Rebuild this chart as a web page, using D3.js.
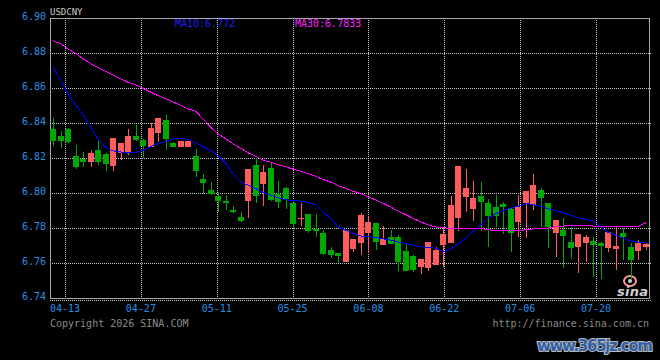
<!DOCTYPE html>
<html>
<head>
<meta charset="utf-8">
<script src="https://cdn.jsdelivr.net/npm/d3@7/dist/d3.min.js"></script>
<style>
	body {margin:0; background:#000;}
	svg {display:block;}
</style>
</head>
<body>
<div id="chart"></div>
<script>
// daily candles, first trading day shown
var firstDay = "2026-04-09";

var opens  = [6.8366,6.8326,6.8366,6.8211,6.8196,6.8179,6.8246,6.8221,6.8156,6.8227,
	6.8227,6.8326,6.8301,6.8265,6.8345,6.8417,6.8287,6.8265,6.8265,6.8211,
	6.8082,6.8017,6.7983,6.7954,6.7905,6.7865,6.7956,6.8160,6.8051,6.8145,
	6.7994,6.8029,6.7943,6.7850,6.7878,6.7796,6.7773,6.7674,6.7657,6.7606,
	6.7682,6.7713,6.7770,6.7829,6.7703,6.7746,6.7749,6.7670,6.7640,6.7577,
	6.7574,6.7586,6.7704,6.7717,6.7859,6.7979,6.7909,6.7983,6.7945,6.7922,
	6.7939,6.7910,6.7836,6.7941,6.7931,6.8017,6.7941,6.7773,6.7789,6.7722,
	6.7690,6.7716,6.7726,6.7713,6.7684,6.7682,6.7770,6.7690,6.7670,6.7690];
var highs  = [6.8427,6.8356,6.8373,6.8274,6.8236,6.8246,6.8297,6.8230,6.8314,6.8286,
	6.8366,6.8389,6.8307,6.8398,6.8430,6.8446,6.8290,6.8297,6.8297,6.8250,
	6.8107,6.8061,6.8007,6.7987,6.7926,6.7893,6.8137,6.8198,6.8160,6.8170,
	6.8069,6.8036,6.7943,6.7941,6.7878,6.7880,6.7789,6.7693,6.7660,6.7789,
	6.7737,6.7886,6.7866,6.7829,6.7813,6.7791,6.7760,6.7709,6.7646,6.7623,
	6.7720,6.7691,6.7807,6.7983,6.8154,6.8137,6.8069,6.8061,6.7966,6.7989,
	6.7950,6.7922,6.7989,6.8011,6.8109,6.8027,6.7941,6.7846,6.7859,6.7807,
	6.7766,6.7760,6.7750,6.7722,6.7779,6.7807,6.7799,6.7715,6.7731,6.7715];
var lows   = [6.8270,6.8259,6.8284,6.8137,6.8150,6.8150,6.8160,6.8127,6.8127,6.8189,
	6.8217,6.8299,6.8198,6.8265,6.8293,6.8246,6.8265,6.8265,6.8265,6.8093,
	6.7993,6.7989,6.7890,6.7903,6.7884,6.7833,6.7859,6.7945,6.7926,6.7955,
	6.7914,6.7909,6.7801,6.7811,6.7773,6.7747,6.7646,6.7627,6.7600,6.7606,
	6.7665,6.7643,6.7655,6.7674,6.7703,6.7710,6.7554,6.7556,6.7549,6.7537,
	6.7554,6.7586,6.7579,6.7717,6.7783,6.7891,6.7840,6.7782,6.7693,6.7807,
	6.7766,6.7665,6.7747,6.7745,6.7903,6.7807,6.7687,6.7636,6.7570,6.7621,
	6.7541,6.7607,6.7522,6.7509,6.7665,6.7560,6.7617,6.7506,6.7617,6.7675];
var closes = [6.8297,6.8299,6.8290,6.8147,6.8179,6.8227,6.8175,6.8166,6.8314,6.8286,
	6.8326,6.8303,6.8269,6.8370,6.8430,6.8307,6.8265,6.8297,6.8297,6.8126,
	6.8059,6.7994,6.7956,6.7945,6.7893,6.7842,6.8137,6.7983,6.8122,6.7960,
	6.7947,6.7966,6.7825,6.7859,6.7783,6.7785,6.7651,6.7646,6.7640,6.7789,
	6.7737,6.7874,6.7836,6.7722,6.7735,6.7710,6.7607,6.7556,6.7560,6.7623,
	6.7720,6.7674,6.7766,6.7931,6.8154,6.8029,6.7973,6.7947,6.7869,6.7869,
	6.7922,6.7770,6.7922,6.8009,6.8046,6.7973,6.7807,6.7846,6.7754,6.7684,
	6.7766,6.7750,6.7703,6.7697,6.7779,6.7697,6.7747,6.7616,6.7712,6.7709];

var ma10 = [6.8725,6.8642,6.8563,6.8503,6.8446,6.8371,6.8309,6.8260,6.8241,6.8234,
	6.8234,6.8233,6.8244,6.8266,6.8281,6.8295,6.8309,6.8312,6.8307,6.8287,
	6.8264,6.8242,6.8213,6.8168,6.8109,6.8061,6.8045,6.8024,6.8003,6.7986,
	6.7973,6.7961,6.7957,6.7954,6.7947,6.7931,6.7891,6.7854,6.7806,6.7787,
	6.7770,6.7754,6.7751,6.7745,6.7738,6.7730,6.7720,6.7711,6.7702,6.7693,
	6.7688,6.7685,6.7665,6.7679,6.7709,6.7744,6.7780,6.7819,6.7857,6.7882,
	6.7900,6.7914,6.7924,6.7939,6.7934,6.7923,6.7910,6.7899,6.7887,6.7873,
	6.7858,6.7849,6.7841,6.7806,6.7775,6.7759,6.7741,6.7725,6.7720,6.7720];
var ma30 = [6.8870,6.8852,6.8823,6.8797,6.8767,6.8738,6.8717,6.8695,6.8674,6.8652,
	6.8633,6.8617,6.8598,6.8576,6.8556,6.8538,6.8521,6.8500,6.8481,6.8466,
	6.8423,6.8374,6.8338,6.8309,6.8281,6.8255,6.8230,6.8209,6.8188,6.8175,
	6.8162,6.8150,6.8136,6.8124,6.8111,6.8095,6.8077,6.8062,6.8042,6.8026,
	6.8010,6.7996,6.7978,6.7960,6.7941,6.7919,6.7897,6.7876,6.7855,6.7834,
	6.7819,6.7805,6.7802,6.7796,6.7797,6.7797,6.7797,6.7797,6.7790,6.7785,
	6.7785,6.7785,6.7787,6.7789,6.7795,6.7798,6.7798,6.7811,6.7811,6.7817,
	6.7817,6.7817,6.7811,6.7811,6.7811,6.7807,6.7807,6.7807,6.7809,6.7830];

var xTickLabels = ["04-13","04-27","05-11","05-25","06-08","06-22","07-06","07-20"];
var yTicks = [6.74,6.76,6.78,6.80,6.82,6.84,6.86,6.88,6.90];

var titleText = "USDCNY";
var ma10Text = "MA10:6.772";
var ma30Text = "MA30:6.7833";

//=================== SETUP ====================================
var W = 660, H = 360;
var plot = {left:50, right:649, top:18, bottom:298};
var mono = "'DejaVu Sans Mono', 'Liberation Mono', monospace";

var parseDay = d3.utcParse("%Y-%m-%d");
var start = parseDay(firstDay);
var days = d3.utcDays(start, d3.utcDay.offset(start, 150))
	.filter(function(d){ return d.getUTCDay() % 6 !== 0; })
	.slice(0, opens.length);

var candles = days.map(function(d, i){
	return {date:d, o:opens[i], h:highs[i], l:lows[i], c:closes[i], m10:ma10[i], m30:ma30[i]};
});

var svg = d3.select("#chart").append("svg")
	.attr("width", W)
	.attr("height", H)
	.style("background", "#000");

var x = d3.scaleBand()
	.domain(days)
	.range([50, 650])
	.paddingInner(0.2)
	.paddingOuter(0.1);

// tick positions are spaced evenly along the frame
var xTick = d3.scalePoint()
	.domain(xTickLabels)
	.range([65, 596]);

var y = d3.scaleLinear()
	.domain([6.74, 6.90])
	.range([plot.bottom, plot.top]);

//=================== GRID ====================================
var grid = svg.append("g").attr("shape-rendering", "crispEdges");

grid.selectAll("line.hgrid")
	.data(yTicks.slice(1, -1))
	.enter().append("line")
	.classed("hgrid", true)
	.attr("x1", plot.left).attr("x2", 651)
	.attr("y1", function(d){ return Math.round(y(d)) + 0.5; })
	.attr("y2", function(d){ return Math.round(y(d)) + 0.5; })
	.attr("stroke", "#c8c8c8")
	.attr("stroke-dasharray", "1,1");

grid.selectAll("line.vgrid")
	.data(xTickLabels)
	.enter().append("line")
	.classed("vgrid", true)
	.attr("x1", function(d){ return Math.round(xTick(d)) + 0.5; })
	.attr("x2", function(d){ return Math.round(xTick(d)) + 0.5; })
	.attr("y1", plot.top).attr("y2", plot.bottom)
	.attr("stroke", "#c8c8c8")
	.attr("stroke-dasharray", "1,1");

// bottom dotted rule under the frame
grid.append("line")
	.attr("x1", plot.left).attr("x2", 651)
	.attr("y1", 300.5).attr("y2", 300.5)
	.attr("stroke", "#c8c8c8")
	.attr("stroke-dasharray", "1,1");

// frame
grid.append("rect")
	.attr("x", plot.left + 0.5)
	.attr("y", plot.top + 0.5)
	.attr("width", plot.right - plot.left)
	.attr("height", plot.bottom - plot.top)
	.attr("fill", "none")
	.attr("stroke", "#a8a8a8");

//=================== LOGO ====================================
var logo = svg.append("g");
logo.append("ellipse")
	.attr("cx", 630).attr("cy", 281).attr("rx", 6).attr("ry", 5)
	.attr("fill", "none").attr("stroke", "#ff9a9a").attr("stroke-width", 2);
logo.append("circle")
	.attr("cx", 630).attr("cy", 281).attr("r", 2)
	.attr("fill", "#d0d0d0");
logo.append("text")
	.attr("x", 617).attr("y", 296)
	.attr("font-family", "'DejaVu Sans', sans-serif")
	.attr("font-size", 13)
	.attr("font-weight", "bold")
	.attr("font-style", "italic")
	.attr("fill", "#cfcfcf")
	.attr("textLength", 31)
	.text("sina");

//=================== CANDLES ====================================
var bw = Math.round(x.bandwidth());
var upColor = "#ff5c5c", downColor = "#00a800";

var cg = svg.append("g").attr("shape-rendering", "crispEdges");

var candle = cg.selectAll("g.candle")
	.data(candles)
	.enter().append("g")
	.classed("candle", true);

candle.append("rect")
	.attr("x", function(d){ return Math.floor(x(d.date)) + Math.floor(bw / 2); })
	.attr("width", 1)
	.attr("y", function(d){ return Math.round(y(d.h)); })
	.attr("height", function(d){ return Math.max(1, Math.round(y(d.l)) - Math.round(y(d.h))); })
	.attr("fill", function(d){ return d.c >= d.o ? upColor : downColor; });

candle.append("rect")
	.attr("x", function(d){ return Math.floor(x(d.date)); })
	.attr("width", bw)
	.attr("y", function(d){ return Math.round(y(Math.max(d.o, d.c))); })
	.attr("height", function(d){
		return Math.max(1, Math.round(y(Math.min(d.o, d.c))) - Math.round(y(Math.max(d.o, d.c))));
	})
	.attr("fill", function(d){ return d.c >= d.o ? upColor : downColor; });

//=================== MOVING AVERAGES ====================================
function maLine(key){
	return d3.line()
		.x(function(d){ return Math.floor(x(d.date)) + bw / 2; })
		.y(function(d){ return y(d[key]); });
}

svg.append("path")
	.datum(candles)
	.attr("d", maLine("m30"))
	.attr("fill", "none")
	.attr("stroke", "#ff00ff")
	.attr("stroke-width", 1)
	.attr("shape-rendering", "crispEdges");

svg.append("path")
	.datum(candles)
	.attr("d", maLine("m10"))
	.attr("fill", "none")
	.attr("stroke", "#0000ff")
	.attr("stroke-width", 1)
	.attr("shape-rendering", "crispEdges");

//=================== TEXT ====================================
var labelBlue = "#2a8fe0";

svg.selectAll("text.ylab")
	.data(yTicks)
	.enter().append("text")
	.classed("ylab", true)
	.attr("x", 46)
	.attr("y", function(d){ return y(d) + 2; })
	.attr("text-anchor", "end")
	.attr("font-family", mono)
	.attr("font-size", 10)
	.attr("fill", labelBlue)
	.text(function(d){ return d.toFixed(2); });

svg.selectAll("text.xlab")
	.data(xTickLabels)
	.enter().append("text")
	.classed("xlab", true)
	.attr("x", function(d){ return xTick(d); })
	.attr("y", 312)
	.attr("text-anchor", "middle")
	.attr("font-family", mono)
	.attr("font-size", 10)
	.attr("fill", labelBlue)
	.text(function(d){ return d; });

svg.append("text")
	.attr("x", 50).attr("y", 15)
	.attr("font-family", mono)
	.attr("font-size", 9)
	.attr("fill", "#c8c8c8")
	.text(titleText);

svg.append("text")
	.attr("x", 175).attr("y", 27)
	.attr("font-family", mono)
	.attr("font-size", 10)
	.attr("fill", "#2020ee")
	.text(ma10Text);

svg.append("text")
	.attr("x", 295).attr("y", 27)
	.attr("font-family", mono)
	.attr("font-size", 10)
	.attr("fill", "#ff22ff")
	.text(ma30Text);

svg.append("text")
	.attr("x", 50).attr("y", 327)
	.attr("font-family", mono)
	.attr("font-size", 10)
	.attr("fill", "#8a8a8a")
	.text("Copyright 2026 SINA.COM");

svg.append("text")
	.attr("x", 649).attr("y", 327)
	.attr("text-anchor", "end")
	.attr("font-family", mono)
	.attr("font-size", 10)
	.attr("fill", "#8a8a8a")
	.text("http://finance.sina.com.cn");

// site watermark
svg.append("text")
	.attr("x", 537).attr("y", 351)
	.attr("font-family", "'DejaVu Sans', sans-serif")
	.attr("font-size", 15)
	.attr("font-weight", "bold")
	.attr("fill", "#2f5fa8")
	.attr("stroke", "#b8b8b8")
	.attr("stroke-width", 2)
	.attr("paint-order", "stroke")
	.attr("textLength", 116)
	.text("www.365jz.com");
</script>
</body>
</html>
